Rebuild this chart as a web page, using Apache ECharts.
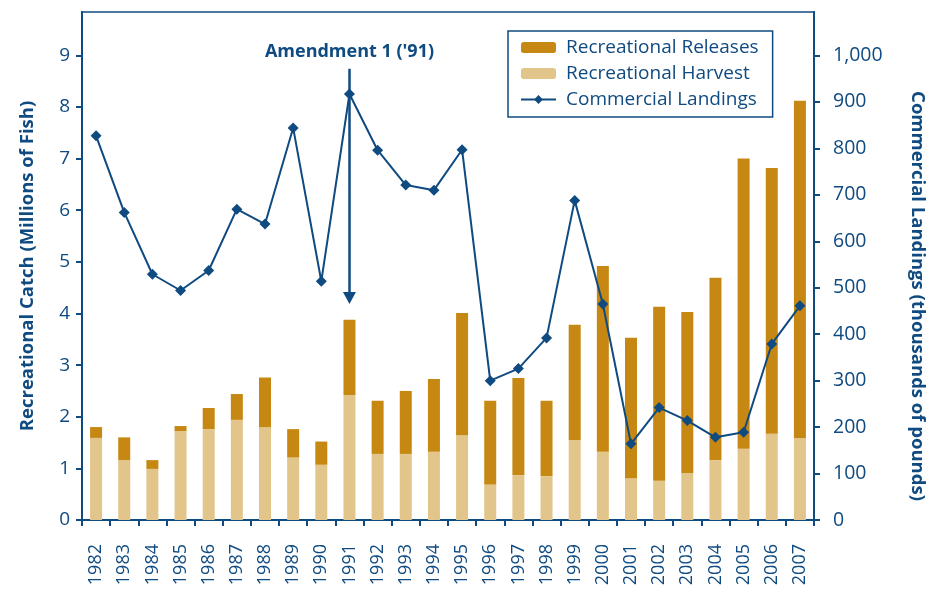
<!DOCTYPE html>
<html>
<head>
<meta charset="utf-8">
<script src="https://cdn.jsdelivr.net/npm/echarts@6/dist/echarts.min.js"></script>
<style>html,body{margin:0;padding:0;background:#fff;}#c{width:935px;height:589px;}</style>
</head>
<body>
<div id="c"></div>
<script>
const years = ['1982','1983','1984','1985','1986','1987','1988','1989','1990','1991','1992','1993','1994','1995','1996','1997','1998','1999','2000','2001','2002','2003','2004','2005','2006','2007'];
const recHarvest = [1.59,1.16,0.99,1.72,1.76,1.94,1.80,1.21,1.07,2.42,1.28,1.28,1.32,1.64,0.69,0.87,0.85,1.55,1.32,0.81,0.76,0.91,1.16,1.38,1.67,1.59];
const recReleases = [0.21,0.44,0.17,0.10,0.41,0.50,0.96,0.55,0.45,1.46,1.03,1.22,1.41,2.37,1.62,1.88,1.46,2.23,3.60,2.72,3.37,3.12,3.53,5.62,5.15,6.53];
const commLandings = [827,662,529,494,537,669,637,844,514,917,796,721,710,797,300,326,392,688,465,164,242,214,178,189,379,461];
const leftTicks = [0,1,2,3,4,5,6,7,8,9];
const rightTicks = [0,100,200,300,400,500,600,700,800,900,1000];
const annotation = {text: "Amendment 1 ('91)", year: '1991', from: 8.74, to: 4.30};

const blue = '#0f4a80';
const font = 'Open Sans';
const chart = echarts.init(document.getElementById('c'), null, {renderer: 'canvas'});
chart.setOption({
  animation: false,
  textStyle: {fontFamily: font},
  grid: {left: 82, right: 117, top: 12, bottom: 69, show: true, borderColor: blue, borderWidth: 1.5, backgroundColor: 'transparent'},
  legend: {
    orient: 'vertical', left: 508, top: 31,
    padding: [6, 14, 7, 12], itemGap: 5, itemWidth: 35, itemHeight: 11,
    borderColor: blue, borderWidth: 1.5, borderRadius: 0,
    data: ['Recreational Releases', 'Recreational Harvest', 'Commercial Landings'],
    textStyle: {color: blue, fontSize: 19, fontFamily: font, lineHeight: 21, padding: [0, 0, 0, 5]}
  },
  xAxis: {
    type: 'category', data: years, boundaryGap: true,
    axisLine: {lineStyle: {color: blue, width: 2}},
    axisTick: {show: true, length: 6, lineStyle: {color: blue, width: 2}, alignWithLabel: false},
    axisLabel: {rotate: 90, color: blue, fontSize: 18, margin: 24, interval: 0, fontFamily: font}
  },
  yAxis: [
    {
      type: 'value', min: 0, max: 9.84, position: 'left',
      name: 'Recreational Catch (Millions of Fish)', nameLocation: 'middle', nameGap: 45,
      nameTextStyle: {color: blue, fontSize: 18.5, fontWeight: 'bold', fontFamily: font},
      splitLine: {show: false},
      axisLine: {show: true, lineStyle: {color: blue, width: 2}},
      axisTick: {show: true, length: 6, lineStyle: {color: blue, width: 2}, customValues: leftTicks},
      axisLabel: {color: blue, fontSize: 19, margin: 12, customValues: leftTicks, fontFamily: font}
    },
    {
      type: 'value', min: 0, max: 1093.5, position: 'right',
      name: 'Commercial Landings (thousands of pounds)', nameLocation: 'middle', nameGap: 94, nameRotate: -90,
      nameTextStyle: {color: blue, fontSize: 18.5, fontWeight: 'bold', fontFamily: font, padding: [0, 0, 0, 60]},
      splitLine: {show: false},
      axisLine: {show: true, lineStyle: {color: blue, width: 2}},
      axisTick: {show: true, length: 6, lineStyle: {color: blue, width: 2}, customValues: rightTicks},
      axisLabel: {color: blue, fontSize: 19.5, margin: 19, customValues: rightTicks, fontFamily: font,
        formatter: v => v >= 1000 ? (Math.floor(v/1000) + ',' + String(v % 1000).padStart(3, '0')) : String(v)}
    }
  ],
  series: [
    {
      name: 'Recreational Harvest', type: 'bar', stack: 'rec', yAxisIndex: 0, barWidth: 12,
      data: recHarvest, itemStyle: {color: '#e2c58a'},
      markLine: {
        silent: true, symbol: ['none', 'triangle'], symbolSize: [13, 12],
        lineStyle: {color: blue, width: 2.5, type: 'solid'},
        label: {show: true, position: 'start', formatter: annotation.text, color: blue, fontSize: 18, fontWeight: 'bold', fontFamily: font, distance: 8},
        data: [[{coord: [annotation.year, annotation.from]}, {coord: [annotation.year, annotation.to]}]]
      }
    },
    {
      name: 'Recreational Releases', type: 'bar', stack: 'rec', yAxisIndex: 0, barWidth: 12,
      data: recReleases, itemStyle: {color: '#c68812'}
    },
    {
      name: 'Commercial Landings', type: 'line', yAxisIndex: 1, data: commLandings,
      symbol: 'diamond', symbolSize: 11, showAllSymbol: true,
      lineStyle: {color: blue, width: 2}, itemStyle: {color: blue}
    }
  ]
});
</script>
</body>
</html>
